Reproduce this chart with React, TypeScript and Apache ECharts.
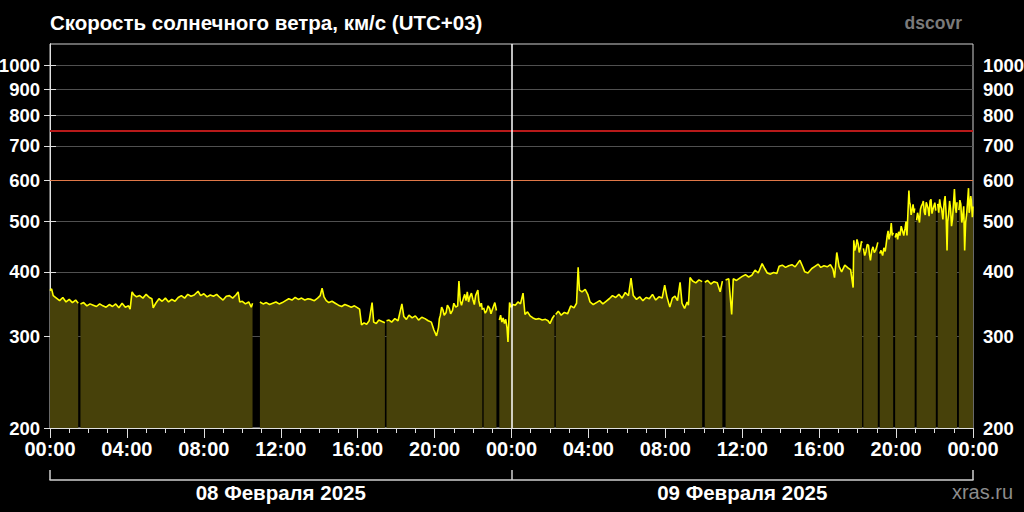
import React, { useEffect, useRef } from 'react';
import * as echarts from 'echarts';

const chartTitle = 'Скорость солнечного ветра, км/с (UTC+03)';
const sourceName = 'dscovr';
const siteName = 'xras.ru';
const dayLabels = ['08 Февраля 2025', '09 Февраля 2025'];
const yTickValues = [200, 300, 400, 500, 600, 700, 800, 900, 1000];
const yMin = 200;
const yMax = 1100;
const xMaxMinutes = 2880;
const dayMinutes = 1440;
const dayTickMinutes = [0, 1440, 2880];
const dayLabelMinutes = [720, 2160];
const dangerLevel = 750;
const warnLevel = 600;

// [minute of day, speed km/s] ; null = data gap
const feb08: Array<[number, number | null]> = [
  [0, 368], [5, 371], [10, 360], [20, 356], [30, 352], [40, 357], [50, 350], [60, 354], [70, 349], [80, 353],
  [88, 348], [92, null], [95, 347], [105, 349], [115, 344], [125, 347], [135, 345], [145, 343], [155, 347],
  [165, 344], [175, 342], [185, 346], [195, 343], [205, 347], [215, 341], [225, 348], [235, 342], [245, 344],
  [250, 339], [256, 366], [262, 361], [270, 358], [280, 360], [290, 356], [300, 362], [310, 357], [318, 355],
  [322, 341], [330, 348], [340, 355], [350, 351], [360, 356], [370, 350], [380, 354], [390, 351], [400, 357],
  [410, 360], [420, 356], [430, 362], [440, 359], [450, 361], [462, 367], [470, 360], [480, 363], [490, 358],
  [500, 361], [510, 359], [520, 362], [530, 357], [540, 353], [550, 359], [560, 360], [570, 356], [580, 361],
  [587, 366], [592, 350], [600, 351], [610, 347], [620, 350], [628, 342], [632, 348], [634, null], [655, 350],
  [665, 347], [675, 349], [685, 346], [695, 348], [705, 350], [715, 347], [725, 349], [735, 352], [745, 355],
  [755, 353], [765, 357], [775, 354], [785, 356], [795, 353], [805, 355], [815, 354], [825, 352], [835, 356],
  [843, 360], [849, 372], [855, 358], [862, 352], [870, 349], [880, 351], [890, 348], [900, 345], [910, 343],
  [920, 346], [930, 344], [940, 342], [950, 344], [960, 341], [966, 339], [972, 316], [980, 319], [988, 317],
  [996, 322], [1005, 349], [1010, 320], [1018, 318], [1026, 323], [1036, 321], [1045, 319], [1048, null],
  [1050, 322], [1058, 323], [1066, 320], [1076, 325], [1086, 322], [1098, 347], [1104, 328], [1112, 324],
  [1120, 330], [1130, 326], [1140, 329], [1150, 323], [1160, 327], [1170, 325], [1180, 322], [1190, 320],
  [1198, 309], [1206, 301], [1212, 312], [1215, 325], [1218, 330], [1222, 342], [1226, 338], [1230, 330],
  [1236, 334], [1240, 345], [1246, 340], [1250, 332], [1256, 337], [1260, 348], [1266, 342], [1272, 344],
  [1276, 384], [1280, 352], [1284, 345], [1290, 356], [1294, 362], [1298, 352], [1302, 366], [1306, 350],
  [1310, 358], [1315, 364], [1320, 353], [1324, 346], [1328, 360], [1335, 369], [1338, 352], [1342, 343],
  [1346, 348], [1349, 338], [1351, null], [1353, 341], [1358, 333], [1362, 336], [1367, 344], [1372, 340],
  [1376, 332], [1380, 338], [1388, 349], [1393, 337], [1396, null], [1402, 323], [1406, 330], [1410, 320],
  [1414, 326], [1418, 318], [1422, 324], [1426, 312], [1429, 293], [1434, 349], [1439, 342],
];

const feb09: Array<[number, number | null]> = [
  [0, 342], [5, 346], [12, 345], [20, 350], [28, 347], [36, 364], [42, 331], [50, 335], [58, 329], [67, 326],
  [76, 324], [86, 325], [96, 323], [106, 324], [114, 322], [120, 318], [128, 326], [134, 330], [136, null],
  [138, 331], [146, 336], [155, 330], [165, 334], [175, 332], [185, 344], [195, 341], [203, 348], [208, 408],
  [212, 369], [220, 366], [230, 370], [238, 362], [245, 350], [255, 346], [265, 349], [275, 352], [285, 347],
  [295, 351], [305, 355], [315, 360], [325, 357], [335, 362], [345, 356], [355, 365], [365, 360], [373, 389],
  [380, 360], [390, 354], [400, 358], [410, 352], [420, 357], [430, 355], [440, 362], [450, 353], [460, 358],
  [470, 356], [478, 377], [485, 358], [494, 342], [502, 356], [510, 359], [518, 352], [526, 382], [532, 348],
  [540, 340], [548, 350], [552, 345], [557, 390], [565, 384], [575, 381], [585, 386], [595, 383], [600, null],
  [603, 382], [612, 385], [622, 379], [632, 383], [642, 381], [651, 366], [658, 384], [665, null], [668, 386],
  [678, 388], [687, 331], [692, 388], [702, 385], [712, 389], [720, 392], [730, 395], [740, 391], [750, 394],
  [760, 403], [770, 398], [782, 415], [790, 406], [798, 398], [808, 396], [818, 399], [828, 397], [835, 410],
  [845, 412], [855, 408], [865, 411], [875, 413], [885, 409], [900, 421], [908, 410], [915, 400], [925, 398],
  [937, 406], [947, 410], [957, 414], [965, 408], [975, 411], [985, 409], [995, 413], [1003, 405], [1008, 390],
  [1015, 436], [1022, 410], [1030, 400], [1040, 412], [1050, 407], [1058, 404], [1066, 373], [1068, 460],
  [1071, 440], [1075, 448], [1078, 462], [1082, 452], [1085, 436], [1089, 446], [1092, 458], [1094, 455],
  [1096, null], [1098, 444], [1102, 430], [1106, 438], [1110, 452], [1114, 450], [1117, 432], [1120, 421],
  [1124, 440], [1128, 447], [1132, 436], [1136, 440], [1140, 448], [1143, 456], [1146, null], [1149, 434],
  [1153, 440], [1158, 430], [1162, 445], [1166, 438], [1169, 452], [1172, 468], [1175, 480], [1178, 462],
  [1182, 475], [1185, 497], [1188, 470], [1191, 476], [1194, null], [1197, 466], [1201, 475], [1205, 462],
  [1208, 478], [1212, 470], [1216, 490], [1220, 480], [1224, 470], [1228, 485], [1231, 500], [1234, 470],
  [1237, 520], [1240, 574], [1242, 545], [1244, 540], [1247, 515], [1250, 526], [1253, 540], [1256, 520],
  [1258, 530], [1261, null], [1264, 503], [1267, 520], [1270, 510], [1273, 498], [1276, 528], [1279, 536],
  [1282, 540], [1285, 548], [1288, 522], [1291, 515], [1294, 545], [1297, 538], [1300, 530], [1303, 512],
  [1306, 548], [1309, 552], [1312, 518], [1315, 528], [1318, 536], [1321, 544], [1324, 525], [1327, null],
  [1330, 541], [1333, 520], [1336, 552], [1339, 535], [1342, 530], [1346, 505], [1350, 545], [1353, 560],
  [1356, 520], [1359, 440], [1361, 500], [1364, 517], [1367, 548], [1370, 530], [1373, 490], [1376, 505],
  [1379, 540], [1382, 578], [1385, 532], [1388, 520], [1390, 545], [1393, null], [1396, 526], [1399, 550],
  [1402, 540], [1405, 498], [1408, 512], [1411, 535], [1414, 440], [1417, 498], [1420, 515], [1423, 545],
  [1426, 580], [1428, 520], [1430, 530], [1433, 560], [1435, 548], [1438, 510], [1440, 535],
];

const FONT = '"Liberation Sans", Arial, sans-serif';

function hhmm(v: number): string {
  const h = Math.round(v / 60) % 24;
  return String(h).padStart(2, '0') + ':00';
}

export default function App() {
  const ref = useRef<HTMLDivElement>(null);

  useEffect(() => {
    if (!ref.current) return;
    const chart = echarts.init(ref.current, null, { renderer: 'svg' });
    const seriesData = [
      ...feb08,
      ...feb09.map(([m, v]) => [m + dayMinutes, v] as [number, number | null]),
    ];

    const yAxisBase = (pos: 'left' | 'right') => ({
      type: 'log' as const,
      logBase: 10,
      min: yMin,
      max: yMax,
      position: pos,
      axisLine: { show: true, lineStyle: { color: '#e0e0e0', width: 1 } },
      axisTick: {
        show: true,
        length: 6,
        customValues: yTickValues,
        lineStyle: { color: '#e0e0e0' },
      },
      axisLabel: {
        show: true,
        customValues: yTickValues,
        color: '#ffffff',
        fontSize: 18.5,
        fontWeight: 'bold',
        fontFamily: FONT,
        margin: 10,
        formatter: (v: number) => String(Math.round(v)),
      },
      splitLine: {
        show: pos === 'left',
        lineStyle: { color: '#505050', width: 1 },
      },
      minorTick: { show: false },
      minorSplitLine: { show: false },
    });

    chart.setOption({
      animation: false,
      backgroundColor: '#000000',
      title: [
        {
          text: chartTitle,
          left: 45,
          top: 7,
          textStyle: { color: '#ffffff', fontSize: 20.5, fontWeight: 'bold', fontFamily: FONT },
        },
        {
          text: sourceName,
          right: 57,
          top: 9,
          textStyle: { color: '#7a7a7a', fontSize: 17.5, fontWeight: 'bold', fontFamily: FONT },
        },
        {
          text: siteName,
          right: 6,
          top: 477,
          textStyle: { color: '#8c8c8c', fontSize: 20, fontWeight: 'normal', fontFamily: FONT },
        },
      ],
      grid: {
        left: 50,
        right: 51,
        top: 44,
        bottom: 84,
        show: true,
        borderColor: '#d0d0d0',
        borderWidth: 1,
        outerBoundsMode: 'none',
      },
      xAxis: [
        {
          type: 'value',
          min: 0,
          max: xMaxMinutes,
          interval: 240,
          axisLine: { show: true, onZero: false, lineStyle: { color: '#e0e0e0', width: 1 } },
          axisTick: { show: true, length: 10, lineStyle: { color: '#e0e0e0' } },
          minorTick: { show: true, splitNumber: 4, length: 5, lineStyle: { color: '#e0e0e0' } },
          splitLine: { show: false },
          axisLabel: {
            color: '#ffffff',
            fontSize: 20,
            fontWeight: 'bold',
            fontFamily: FONT,
            margin: 11,
            formatter: hhmm,
          },
        },
        {
          type: 'value',
          min: 0,
          max: xMaxMinutes,
          position: 'bottom',
          offset: 52,
          axisLine: { show: true, onZero: false, lineStyle: { color: '#d0d0d0', width: 1.5 } },
          axisTick: {
            show: true,
            inside: true,
            length: 10,
            customValues: dayTickMinutes,
            lineStyle: { color: '#d0d0d0', width: 1.5 },
          },
          axisLabel: {
            customValues: dayLabelMinutes,
            color: '#ffffff',
            fontSize: 20.5,
            fontWeight: 'bold',
            fontFamily: FONT,
            margin: 2,
            formatter: (v: number) => dayLabels[v < dayMinutes ? 0 : 1],
          },
          splitLine: { show: false },
        },
      ],
      yAxis: [yAxisBase('left'), yAxisBase('right')],
      series: [
        {
          type: 'line',
          xAxisIndex: 0,
          yAxisIndex: 0,
          data: seriesData,
          showSymbol: false,
          symbol: 'none',
          connectNulls: false,
          lineStyle: { color: '#ffff00', width: 1.6 },
          areaStyle: { color: '#47410a', opacity: 1, origin: 'start' },
          silent: true,
          markLine: {
            silent: true,
            symbol: 'none',
            label: { show: false },
            data: [
              { yAxis: dangerLevel, lineStyle: { color: '#b81a1a', width: 2, type: 'solid' } },
              { yAxis: warnLevel, lineStyle: { color: '#e07848', width: 1, type: 'solid' } },
              { xAxis: dayMinutes, lineStyle: { color: '#ffffff', width: 1.5, type: 'solid' } },
            ],
          },
        },
      ],
    });

    return () => chart.dispose();
  }, []);

  return (
    <div
      ref={ref}
      style={{ position: 'fixed', left: 0, top: 0, width: 1024, height: 512, background: '#000' }}
    />
  );
}
